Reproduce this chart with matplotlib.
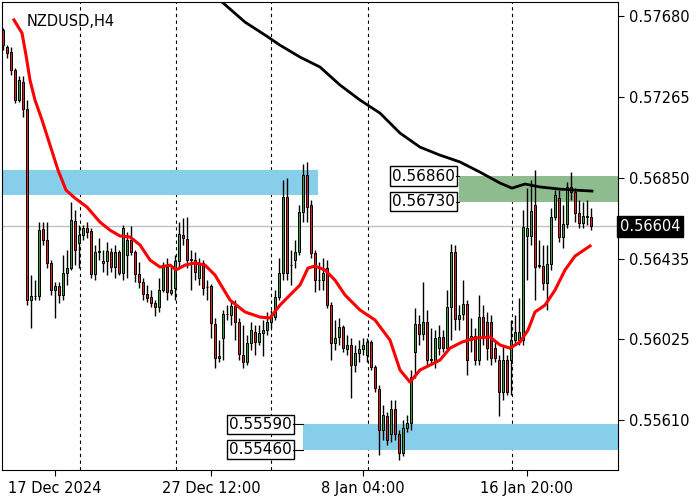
import numpy as np
import matplotlib.pyplot as plt
from matplotlib.patches import Rectangle

# NZDUSD H4 candles, prices in points (1e-5)
opens = [57608, 57522, 57496, 57404, 57250, 57342, 57204, 56226, 56246, 56246,
         56590, 56533, 56416, 56277, 56298, 56252, 56364, 56390, 56630, 56518,
         56559, 56595, 56579, 56359, 56472, 56416, 56426, 56472, 56395, 56472,
         56364, 56456, 56533, 56472, 56359, 56318, 56257, 56241, 56211, 56190,
         56277, 56395, 56262, 56287, 56426, 56559, 56538, 56431, 56431, 56339,
         56416, 56292, 56298, 56103, 55929, 56031, 56154, 56149, 56195, 56113,
         55944, 55909, 56006, 56062, 56011, 56057, 56072, 56113, 56139, 56241,
         56364, 56754, 56405, 56431, 56472, 56677, 56866, 56712, 56467, 56328,
         56328, 56390, 56200, 56006, 56037, 56088, 55975, 55996, 55893, 55955,
         55975, 55944, 56011, 55883, 55770, 55560, 55632, 55540, 55668, 55540,
         55443, 55571, 55596, 55960, 56103, 56052, 56113, 55919, 55909, 55980,
         56037, 55980, 56190, 56472, 56129, 56154, 56206, 56021, 56042, 55919,
         56139, 56113, 56113, 55980, 55919, 55755, 55919, 55919, 56021, 56021,
         56021, 56554, 56554, 56712, 56400, 56400, 56313, 56410, 56651, 56748,
         56548, 56615, 56805, 56779, 56671, 56620, 56651, 56651]
closes = [57532, 57491, 57404, 57250, 57352, 57204, 56226, 56246, 56246, 56584,
          56533, 56416, 56277, 56298, 56252, 56364, 56390, 56636, 56482, 56559,
          56595, 56574, 56359, 56472, 56472, 56426, 56477, 56395, 56472, 56364,
          56595, 56533, 56472, 56359, 56318, 56257, 56236, 56211, 56190, 56277,
          56395, 56267, 56277, 56426, 56564, 56543, 56431, 56431, 56370, 56416,
          56287, 56292, 56108, 55929, 55939, 56154, 56154, 56195, 56113, 55950,
          55909, 56006, 56072, 56011, 56057, 56072, 56113, 56139, 56241, 56364,
          56754, 56364, 56405, 56472, 56677, 56866, 56702, 56467, 56328, 56328,
          56364, 56200, 56006, 56031, 56088, 55980, 55996, 55893, 55955, 55975,
          55996, 56011, 55883, 55775, 55560, 55637, 55509, 55668, 55540, 55443,
          55571, 55596, 55832, 56103, 56052, 56113, 55919, 55919, 56031, 56037,
          55980, 56190, 56472, 56129, 56149, 56206, 55919, 56042, 55919, 56139,
          56037, 55980, 55929, 55929, 55755, 55919, 55755, 56021, 56062, 56062,
          56600, 56595, 56682, 56395, 56400, 56313, 56410, 56651, 56764, 56548,
          56615, 56805, 56779, 56671, 56620, 56656, 56651, 56604]
highs = [57618, 57532, 57522, 57414, 57373, 57373, 57250, 56354, 56328, 56625,
         56625, 56625, 56431, 56318, 56318, 56456, 56482, 56728, 56687, 56610,
         56610, 56625, 56595, 56508, 56543, 56482, 56523, 56492, 56508, 56482,
         56610, 56574, 56605, 56482, 56420, 56339, 56303, 56277, 56226, 56339,
         56420, 56441, 56405, 56456, 56625, 56646, 56651, 56482, 56472, 56441,
         56431, 56328, 56308, 56134, 56021, 56175, 56200, 56226, 56226, 56134,
         56098, 56047, 56113, 56098, 56098, 56124, 56165, 56175, 56277, 56441,
         56840, 56850, 56482, 56533, 56712, 56922, 56933, 56738, 56482, 56420,
         56441, 56431, 56216, 56124, 56134, 56098, 56047, 56031, 55996, 56021,
         56031, 56031, 56021, 55893, 55790, 55688, 55653, 55714, 55714, 55560,
         55612, 55637, 55868, 56185, 56149, 56318, 56175, 56082, 56072, 56098,
         56072, 56277, 56513, 56508, 56200, 56328, 56226, 56134, 56082, 56252,
         56200, 56165, 56149, 56021, 55944, 55996, 55944, 56124, 56149, 56236,
         56687, 56799, 56840, 56892, 56533, 56508, 56508, 56697, 56789, 56789,
         56712, 56830, 56881, 56799, 56738, 56728, 56738, 56697]
lows = [57506, 57465, 57378, 57235, 57240, 57163, 56200, 56082, 56226, 56226,
        56508, 56390, 56252, 56134, 56211, 56226, 56303, 56380, 56405, 56390,
        56533, 56543, 56338, 56328, 56431, 56370, 56354, 56370, 56338, 56354,
        56328, 56338, 56456, 56318, 56287, 56226, 56216, 56190, 56144, 56165,
        56267, 56226, 56252, 56226, 56390, 56508, 56390, 56277, 56328, 56303,
        56252, 56226, 56031, 55878, 55909, 55919, 56124, 56098, 56021, 55919,
        55878, 55893, 55970, 55944, 55996, 55939, 56047, 56082, 56124, 56226,
        56328, 56328, 56303, 56390, 56456, 56625, 56625, 56441, 56267, 56277,
        56277, 56185, 55919, 55970, 55996, 55960, 55944, 55724, 55857, 55909,
        55944, 55909, 55868, 55755, 55432, 55509, 55484, 55499, 55509, 55407,
        55427, 55550, 55560, 55827, 55996, 56021, 55893, 55893, 55878, 55944,
        55960, 55960, 56021, 56072, 56072, 56124, 55842, 55960, 55893, 55893,
        55996, 55919, 55893, 55909, 55632, 55714, 55740, 55740, 55996, 55996,
        55996, 56328, 56508, 56226, 56390, 56277, 56175, 56380, 56636, 56523,
        56492, 56595, 56738, 56625, 56595, 56595, 56610, 56584]

# moving averages sampled along the chart (bar index, price points)
ma_fast_idx = [2.75, 4.75, 5.75, 6.75, 8, 9.75, 11.75, 13.75, 15.75, 18, 21, 24.25,
               26.75, 29.25, 31.75, 34.25, 36.75, 39.25, 41.75, 43.25, 45.5, 48,
               50.5, 53, 56.75, 60.5, 64.25, 66.75, 69.25, 71.75, 74.25, 76.25, 78,
               80.5, 83, 85.5, 89.25, 93, 96.75, 99.25, 101.75, 104.25, 106.75,
               109.25, 111.75, 114.75, 118, 121.75, 124.25, 126.75, 129.25, 131.25,
               133, 135.5, 138, 140.5, 143, 146.75]
ma_fast = [57660, 57593, 57480, 57352, 57250, 57148, 57020, 56892, 56789, 56748,
           56702, 56625, 56584, 56554, 56549, 56508, 56431, 56395, 56405, 56380,
           56405, 56416, 56405, 56354, 56226, 56165, 56139, 56134, 56200, 56252,
           56303, 56390, 56400, 56380, 56328, 56252, 56175, 56124, 56021, 55868,
           55806, 55868, 55893, 55919, 55980, 56011, 56031, 56037, 55996, 55980,
           56011, 56072, 56165, 56200, 56277, 56380, 56451, 56503]
ma_slow_idx = [54.75, 60.5, 65.5, 69.25, 74.25, 79.25, 84.25, 89.25, 94.25, 99.25,
               101.75, 104.25, 109.25, 114.25, 119.25, 124.25, 127.25, 130.5,
               134.25, 139.25, 143, 147.25]
ma_slow = [57752, 57649, 57583, 57531, 57470, 57419, 57327, 57250, 57183, 57081,
           57045, 57009, 56968, 56933, 56881, 56825, 56799, 56820, 56805, 56794,
           56789, 56784]

yticks = [0.57680, 0.57265, 0.56850, 0.56435, 0.56025, 0.55610]
date_pos = [13, 52, 90, 131]
date_labels = ["17 Dec 2024", "27 Dec 12:00", "8 Jan 04:00", "16 Jan 20:00"]
grid_pos = [19.25, 43.25, 67, 91.25, 127.25]
last_price = 0.56604

o = np.array(opens) / 1e5
c = np.array(closes) / 1e5
h = np.array(highs) / 1e5
l = np.array(lows) / 1e5
idx = np.arange(len(o))

fig = plt.figure(figsize=(7, 5), dpi=100)
ax = fig.add_axes([2 / 700, 30 / 500, 616 / 700, 468 / 500])
ax.set_xlim(-0.25, 153.75)
ax.set_ylim(0.55356, 0.57752)

# zones
ax.add_patch(Rectangle((-0.25, 0.56764), 79, 0.00128, color="#87ceeb", lw=0, zorder=1))
ax.add_patch(Rectangle((114, 0.56730), 40, 0.00130, color="#8fbc8f", lw=0, zorder=1))
ax.add_patch(Rectangle((75, 0.55460), 79, 0.00130, color="#87ceeb", lw=0, zorder=1))

for g in grid_pos:
    ax.axvline(g, color="black", ls=(0, (3, 3)), lw=0.8, zorder=0)
ax.axhline(last_price, color="#c0c0c0", lw=1, zorder=0)

# candles
ax.vlines(idx, l, h, color="black", lw=1, zorder=3)
up = c >= o
body_lo = np.minimum(o, c)
body_h = np.maximum(np.abs(c - o), 0.00003)
for i in idx:
    ax.add_patch(Rectangle((i - 0.35, body_lo[i]), 0.7, body_h[i],
                           facecolor="#3c9a3c" if up[i] else "#e02020",
                           edgecolor="black", lw=0.7, zorder=4))

ax.plot(ma_slow_idx, np.array(ma_slow) / 1e5, color="black", lw=2, zorder=5)
ax.plot(ma_fast_idx, np.array(ma_fast) / 1e5, color="red", lw=2.2, zorder=5)

# level labels
def level_box(x, y, text, x_end, y_end):
    ax.text(x, y, text, fontsize=11, ha="right", va="center", zorder=6,
            bbox=dict(boxstyle="square,pad=0.15", fc="white", ec="black", lw=1))
    ax.plot([x + 0.3, x_end], [y, y_end], color="black", lw=0.8, zorder=6)

level_box(113, 0.56860, "0.56860", 114, 0.56860)
level_box(113, 0.56730, "0.56730", 114, 0.56730)
level_box(72.3, 0.55590, "0.55590", 75, 0.55590)
level_box(72.3, 0.55460, "0.55460", 75, 0.55460)

ax.text(6, 0.5765, "NZDUSD,H4", fontsize=10.5, va="center", ha="left")

ax.yaxis.tick_right()
ax.set_yticks(yticks)
ax.set_yticklabels([f"{v:.5f}" for v in yticks], fontsize=10.5)
ax.tick_params(axis="y", length=4, pad=4)
ax.set_xticks(date_pos)
ax.set_xticklabels(date_labels, fontsize=10.5)
ax.tick_params(axis="x", length=4, pad=4)
ax.text(1.003, (last_price - 0.55356) / (0.57752 - 0.55356), f"{last_price:.5f}",
        transform=ax.transAxes, fontsize=10.5, color="white", va="center", ha="left",
        bbox=dict(boxstyle="square,pad=0.2", fc="black", ec="black"))

fig.savefig("out.png", dpi=100)
